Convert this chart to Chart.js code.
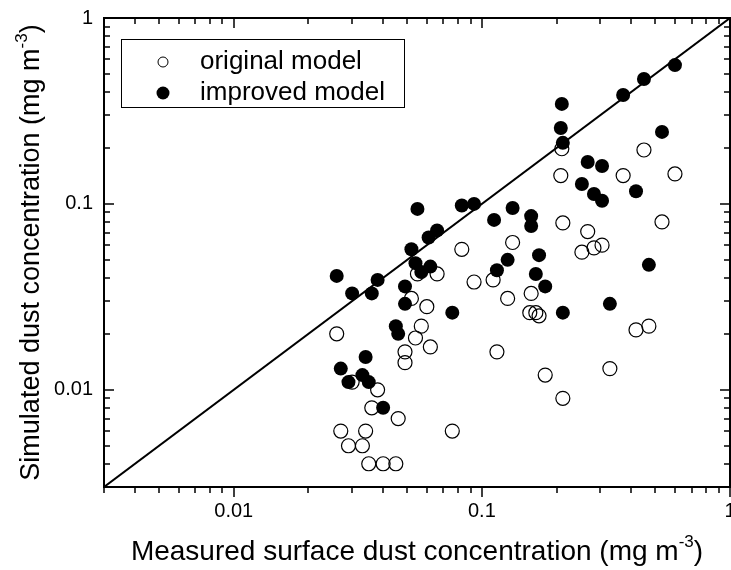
<!DOCTYPE html>
<html>
<head>
<meta charset="utf-8">
<script src="https://cdn.jsdelivr.net/npm/chart.js@4.4.0/dist/chart.umd.min.js"></script>
<style>
  html, body { margin: 0; padding: 0; background: #fff; }
</style>
</head>
<body>
<canvas id="dustChart" width="731" height="570"></canvas>
<script>
// measured vs simulated surface dust (mg m-3)
var origMeasured  = [0.210, 0.450, 0.208, 0.371, 0.600, 0.212, 0.532, 0.267, 0.133, 0.083,
                     0.253, 0.283, 0.305, 0.127, 0.158, 0.156, 0.165, 0.170, 0.418, 0.471,
                     0.115, 0.180, 0.328, 0.212, 0.055, 0.066, 0.093, 0.111, 0.052, 0.060,
                     0.057, 0.054, 0.026, 0.062, 0.049, 0.049, 0.030, 0.038, 0.036, 0.046,
                     0.027, 0.034, 0.029, 0.033, 0.035, 0.040, 0.045, 0.076];
var origSimulated = [0.198, 0.195, 0.142, 0.142, 0.145, 0.079, 0.080, 0.071, 0.062, 0.057,
                     0.055, 0.058, 0.060, 0.031, 0.033, 0.026, 0.026, 0.025, 0.021, 0.022,
                     0.016, 0.012, 0.013, 0.009, 0.042, 0.042, 0.038, 0.039, 0.031, 0.028,
                     0.022, 0.019, 0.020, 0.017, 0.016, 0.014, 0.011, 0.010, 0.008, 0.007,
                     0.006, 0.006, 0.005, 0.005, 0.004, 0.004, 0.004, 0.006];

var impMeasured   = [0.600, 0.450, 0.371, 0.210, 0.208, 0.212, 0.532, 0.267, 0.305, 0.253,
                     0.283, 0.305, 0.418, 0.055, 0.083, 0.093, 0.112, 0.133, 0.158, 0.158,
                     0.066, 0.061, 0.052, 0.127, 0.170, 0.165, 0.180, 0.212, 0.328, 0.471,
                     0.115, 0.054, 0.057, 0.062, 0.026, 0.038, 0.030, 0.036, 0.049, 0.049,
                     0.076, 0.045, 0.046, 0.034, 0.027, 0.029, 0.033, 0.035, 0.040];
var impSimulated  = [0.558, 0.470, 0.385, 0.345, 0.256, 0.213, 0.244, 0.168, 0.160, 0.128,
                     0.113, 0.104, 0.117, 0.094, 0.098, 0.100, 0.082, 0.095, 0.086, 0.076,
                     0.072, 0.066, 0.057, 0.050, 0.053, 0.042, 0.036, 0.026, 0.029, 0.047,
                     0.044, 0.048, 0.043, 0.046, 0.041, 0.039, 0.033, 0.033, 0.036, 0.029,
                     0.026, 0.022, 0.020, 0.015, 0.013, 0.011, 0.012, 0.011, 0.008];

var oneToOne = [0.003, 1];
var decadeLabels = ["0.01", "0.1", "1"];
var seriesNames = ["original model", "improved model"];
var xTitle = "Measured surface dust concentration (mg m";
var yTitle = "Simulated dust concentration (mg m";

var FONT = "'Liberation Sans', Arial, sans-serif";
Chart.defaults.font.family = FONT;
Chart.defaults.color = '#000';

function pairs(xs, ys) {
    var out = [];
    for (var i = 0; i < xs.length; i++) {
        out.push({x: xs[i], y: ys[i]});
    }
    return out;
}

// 1..9 x each decade between the limits
function logTicks(scale) {
    var t = [];
    for (var e = -3; e <= 0; e++) {
        for (var m = 1; m <= 9; m++) {
            var v = parseFloat((m * Math.pow(10, e)).toPrecision(3));
            if (v >= oneToOne[0] - 1e-9 && v <= oneToOne[1] + 1e-9) t.push({value: v});
        }
    }
    scale.ticks = t;
}

function tickLabel(value) {
    var s = String(parseFloat(value.toPrecision(3)));
    return decadeLabels.indexOf(s) >= 0 ? s : '';
}

function isDecade(v) {
    return tickLabel(v) !== '';
}

// axis frame, tick marks and titles with superscripts
var frame = {
    id: 'frame',
    afterDatasetsDraw: function(chart) {
        var ctx = chart.ctx;
        var a = chart.chartArea;
        var xs = chart.scales.x, ys = chart.scales.y;
        ctx.save();
        ctx.strokeStyle = '#000';
        ctx.lineWidth = 1.5;
        ctx.beginPath();
        xs.ticks.forEach(function(t) {
            var px = Math.round(xs.getPixelForValue(t.value));
            var len = isDecade(t.value) ? 10 : 6;
            ctx.moveTo(px, a.bottom); ctx.lineTo(px, a.bottom + len);
            ctx.moveTo(px, a.top); ctx.lineTo(px, a.top + len);
        });
        ys.ticks.forEach(function(t) {
            var py = Math.round(ys.getPixelForValue(t.value));
            var len = isDecade(t.value) ? 10 : 6;
            ctx.moveTo(a.left, py); ctx.lineTo(a.left + len, py);
            ctx.moveTo(a.right, py); ctx.lineTo(a.right - len, py);
        });
        ctx.stroke();
        ctx.lineWidth = 2;
        ctx.strokeRect(a.left, a.top, a.right - a.left, a.bottom - a.top);

        // x title
        ctx.fillStyle = '#000';
        ctx.textBaseline = 'alphabetic';
        drawSupTitle(ctx, xTitle, (a.left + a.right) / 2, 560, 28);
        // y title
        ctx.save();
        ctx.translate(39, (a.top + a.bottom) / 2);
        ctx.rotate(-Math.PI / 2);
        drawSupTitle(ctx, yTitle, 0, 0, 27);
        ctx.restore();
        ctx.restore();
    }
};

function drawSupTitle(ctx, text, cx, baseY, size) {
    var big = size + 'px ' + FONT, small = Math.round(size * 0.62) + 'px ' + FONT;
    ctx.font = big;
    var w1 = ctx.measureText(text).width;
    var w3 = ctx.measureText(')').width;
    ctx.font = small;
    var w2 = ctx.measureText('-3').width;
    var x0 = cx - (w1 + w2 + w3) / 2;
    ctx.textAlign = 'left';
    ctx.font = big;
    ctx.fillText(text, x0, baseY);
    ctx.font = small;
    ctx.fillText('-3', x0 + w1, baseY - size * 0.45);
    ctx.font = big;
    ctx.fillText(')', x0 + w1 + w2, baseY);
}

var legendBox = {
    id: 'legendBox',
    afterDraw: function(chart) {
        var ctx = chart.ctx;
        ctx.save();
        ctx.strokeStyle = '#000';
        ctx.lineWidth = 1;
        ctx.strokeRect(121.5, 39.5, 283, 68);
        ctx.font = '26px ' + FONT;
        ctx.fillStyle = '#000';
        ctx.textAlign = 'left';
        ctx.textBaseline = 'middle';
        // original model
        ctx.beginPath();
        ctx.arc(163, 62, 5, 0, Math.PI * 2);
        ctx.stroke();
        ctx.fillText(seriesNames[0], 200, 62);
        // improved model
        ctx.beginPath();
        ctx.arc(163, 93, 6.5, 0, Math.PI * 2);
        ctx.fill();
        ctx.fillText(seriesNames[1], 200, 93);
        ctx.restore();
    }
};

var ctx = document.getElementById('dustChart');
var dustChart = new Chart(ctx, {
    type: 'scatter',
    data: {
        datasets: [{
            label: '1:1',
            data: pairs(oneToOne, oneToOne),
            showLine: true,
            borderColor: '#000',
            borderWidth: 2,
            pointRadius: 0,
            order: 3
        }, {
            label: seriesNames[0],
            data: pairs(origMeasured, origSimulated),
            pointRadius: 7,
            pointBorderWidth: 1.2,
            pointBorderColor: '#000',
            pointBackgroundColor: 'rgba(0,0,0,0)',
            order: 2
        }, {
            label: seriesNames[1],
            data: pairs(impMeasured, impSimulated),
            pointRadius: 7,
            pointBorderWidth: 0,
            pointBackgroundColor: '#000',
            pointBorderColor: '#000',
            order: 1
        }]
    },
    options: {
        responsive: false,
        animation: false,
        devicePixelRatio: 1,
        layout: { autoPadding: false, padding: { top: 18, right: 1, left: 0, bottom: 0 } },
        plugins: {
            legend: { display: false },
            tooltip: { enabled: false }
        },
        scales: {
            x: {
                type: 'logarithmic',
                min: oneToOne[0],
                max: oneToOne[1],
                grid: { display: false, drawTicks: false, tickLength: 0 },
                border: { display: false },
                afterBuildTicks: logTicks,
                afterFit: function(s) {
                    s.height = 83;
                    s.paddingLeft = 0;
                    s.paddingRight = 0;
                },
                ticks: {
                    autoSkip: false,
                    maxRotation: 0,
                    padding: 12,
                    font: { size: 20 },
                    callback: function(v) { return tickLabel(v); }
                }
            },
            y: {
                type: 'logarithmic',
                min: oneToOne[0],
                max: oneToOne[1],
                grid: { display: false, drawTicks: false, tickLength: 0 },
                border: { display: false },
                afterBuildTicks: logTicks,
                afterFit: function(s) {
                    s.width = 104;
                    s.paddingTop = 0;
                    s.paddingBottom = 0;
                },
                ticks: {
                    autoSkip: false,
                    padding: 11,
                    font: { size: 20 },
                    callback: function(v) { return tickLabel(v); }
                }
            }
        }
    },
    plugins: [frame, legendBox]
});
</script>
</body>
</html>
